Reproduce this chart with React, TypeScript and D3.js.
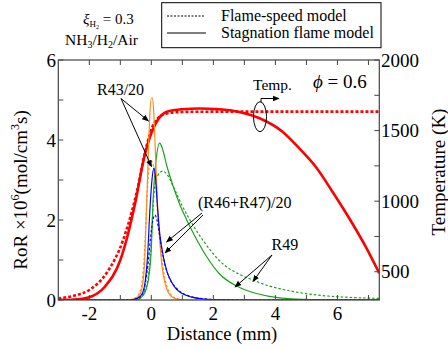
import React from "react";
import * as d3 from "d3";

type P = [number, number];

// Temperature (K), right axis
const tempStagnation: P[] = [[-3,300],[-2.5,303],[-2,320],[-1.5,394],[-1,583],[-0.5,1008],[-0.25,1292],[0,1483],[0.25,1590],[0.5,1634],[1,1651],[1.56,1656],[2.1,1652],[2.63,1641],[3.49,1587],[4.23,1492],[4.77,1374],[5.3,1244],[5.84,1067],[6.38,879],[6.91,678],[7.35,490]];
const tempFlameSpeed: P[] = [[-3,312],[-2.5,330],[-2,371],[-1.45,489],[-0.91,725],[-0.48,1056],[-0.16,1386],[0.11,1560],[0.5,1622],[1,1632],[2,1634],[7.35,1634]];

// RoR x10^6 (mol/cm3 s), left axis
const r43Stagnation: P[] = [[-3,0],[-0.8,0],[-0.55,0.03],[-0.4,0.1],[-0.3,0.3],[-0.22,0.9],[-0.16,2.2],[-0.1,3.6],[-0.05,4.6],[0,5.05],[0.04,5.05],[0.09,4.5],[0.14,3.5],[0.2,2.4],[0.27,1.5],[0.35,0.8],[0.45,0.4],[0.55,0.18],[0.7,0.06],[0.9,0.01],[1.2,0],[7.35,0]];
const r43FlameSpeed: P[] = [[-3,0],[-0.8,0],[-0.55,0.04],[-0.4,0.15],[-0.3,0.45],[-0.22,1.2],[-0.15,2.4],[-0.1,3.1],[-0.05,3.42],[0,3.47],[0.05,3.4],[0.1,3.2],[0.16,2.7],[0.22,2.0],[0.3,1.3],[0.38,0.8],[0.48,0.4],[0.6,0.17],[0.75,0.06],[1,0.01],[1.3,0],[7.35,0]];
const r4647Stagnation: P[] = [[-3,0],[-0.7,0],[-0.45,0.04],[-0.3,0.15],[-0.2,0.45],[-0.12,1.1],[-0.05,2.2],[0.02,3.0],[0.08,3.3],[0.13,3.1],[0.2,2.3],[0.28,1.6],[0.37,1.15],[0.5,0.72],[0.65,0.45],[0.8,0.28],[1,0.16],[1.3,0.07],[1.7,0.025],[2.2,0.005],[3,0],[7.35,0]];
const r4647FlameSpeed: P[] = [[-3,0],[-0.7,0],[-0.45,0.04],[-0.3,0.13],[-0.2,0.4],[-0.1,0.95],[-0.02,1.6],[0.05,2.0],[0.12,2.12],[0.18,2.0],[0.25,1.7],[0.33,1.3],[0.45,0.85],[0.6,0.52],[0.8,0.3],[1,0.17],[1.3,0.08],[1.7,0.03],[2.2,0.008],[3,0],[7.35,0]];
const r49Stagnation: P[] = [[-3,0],[-0.5,0],[-0.35,0.05],[-0.2,0.2],[-0.08,0.6],[0,1.3],[0.05,2.4],[0.14,3.4],[0.27,3.92],[0.35,3.8],[0.5,3.35],[0.7,2.85],[0.9,2.42],[1.13,2.02],[1.4,1.6],[1.77,1.1],[2.2,0.65],[2.8,0.33],[3.3,0.18],[3.8,0.09],[4.5,0.03],[5.5,0.01],[7.35,0]];
const r49FlameSpeed: P[] = [[-3,0],[-0.5,0],[-0.35,0.06],[-0.2,0.25],[-0.08,0.7],[0,1.5],[0.06,2.4],[0.12,2.9],[0.2,3.1],[0.37,3.22],[0.5,3.15],[0.7,2.85],[1,2.35],[1.4,1.8],[1.77,1.38],[2.2,0.98],[2.84,0.64],[3.27,0.5],[3.8,0.35],[4.34,0.25],[4.9,0.17],[5.4,0.12],[6.3,0.07],[7.35,0.04]];

const xTicks = [-2, -1, 0, 1, 2, 3, 4, 5, 6, 7];
const xTickLabels = [-2, 0, 2, 4, 6];
const yLeftTicks = [0, 1, 2, 3, 4, 5, 6];
const yLeftLabels = [0, 2, 4, 6];
const yRightTicks = [500, 750, 1000, 1250, 1500, 1750, 2000];
const yRightLabels = [500, 1000, 1500, 2000];

const FONT = "Liberation Serif";
const RED = "#ff0000";
const ORANGE = "#ff8c1a";
const BLUE = "#0000ff";
const GREEN = "#1aa31a";
const AXIS = "#444";

export default function App() {
  const L = 58.3, R = 379.3, T = 60, B = 300;
  const x = d3.scaleLinear().domain([-3, 7.35]).range([L, R]);
  const yL = d3.scaleLinear().domain([0, 6]).range([B, T]);
  const yR = d3.scaleLinear().domain([300, 2000]).range([B, T]);
  const lineL = d3.line<P>().x(d => x(d[0])).y(d => yL(d[1])).curve(d3.curveMonotoneX);
  const lineR = d3.line<P>().x(d => x(d[0])).y(d => yR(d[1])).curve(d3.curveMonotoneX);

  const thin = 1.2;
  return (
    <svg width={448} height={349} style={{ position: "absolute", left: 0, top: 0, background: "#fff", fontFamily: FONT }}>
      <defs>
        <marker id="ah" viewBox="0 0 10 10" refX="9" refY="5" markerWidth="7" markerHeight="7" orient="auto-start-reverse" markerUnits="userSpaceOnUse">
          <path d="M0,1 L10,5 L0,9 z" fill="#000" />
        </marker>
        <clipPath id="clip"><rect x={L} y={T} width={R - L} height={B - T} /></clipPath>
      </defs>

      {/* Legend */}
      <rect x={161.7} y={2.7} width={219.3} height={45} fill="none" stroke="#000" strokeWidth={1} />
      <line x1={167} x2={204} y1={16} y2={16} stroke="#000" strokeWidth={1} strokeDasharray="2,1.5" />
      <line x1={167} x2={206} y1={33} y2={33} stroke="#000" strokeWidth={1.2} />
      <text x={221} y={21} fontSize={16}>Flame-speed model</text>
      <text x={221} y={38} fontSize={16}>Stagnation flame model</text>

      {/* top-left annotation */}
      <text x={83} y={24} fontSize={15}>
        <tspan fontStyle="italic">ξ</tspan>
        <tspan fontSize={9} dy={3}>H</tspan>
        <tspan fontSize={6} dy={1.5}>2</tspan>
        <tspan dy={-4.5}> = 0.3</tspan>
      </text>
      <text x={65} y={45} fontSize={15.5}>
        NH<tspan fontSize={10} dy={3}>3</tspan><tspan dy={-3}>/H</tspan><tspan fontSize={10} dy={3}>2</tspan><tspan dy={-3}>/Air</tspan>
      </text>

      {/* curves */}
      <g clipPath="url(#clip)" fill="none">
        <path d={lineR(tempFlameSpeed) || ""} stroke={RED} strokeWidth={2.6} strokeDasharray="3,2" />
        <path d={lineR(tempStagnation) || ""} stroke={RED} strokeWidth={2.6} />
        <path d={lineL(r49FlameSpeed) || ""} stroke={GREEN} strokeWidth={thin} strokeDasharray="2.5,2" />
        <path d={lineL(r49Stagnation) || ""} stroke={GREEN} strokeWidth={thin} />
        <path d={lineL(r43FlameSpeed) || ""} stroke={ORANGE} strokeWidth={thin} strokeDasharray="2.5,2" />
        <path d={lineL(r43Stagnation) || ""} stroke={ORANGE} strokeWidth={thin} />
        <path d={lineL(r4647FlameSpeed) || ""} stroke={BLUE} strokeWidth={thin} strokeDasharray="2.5,2" />
        <path d={lineL(r4647Stagnation) || ""} stroke={BLUE} strokeWidth={thin} />
      </g>

      {/* frame */}
      <rect x={L} y={T} width={R - L} height={B - T} fill="none" stroke={AXIS} strokeWidth={1.2} />
      {xTicks.map(t => (
        <g key={"xt" + t}>
          <line x1={x(t)} x2={x(t)} y1={B} y2={B - 5} stroke={AXIS} />
          <line x1={x(t)} x2={x(t)} y1={T} y2={T + 5} stroke={AXIS} />
        </g>
      ))}
      {xTickLabels.map(t => (
        <text key={"xl" + t} x={x(t)} y={320} fontSize={19} textAnchor="middle">{t < 0 ? "-" + Math.abs(t) : t}</text>
      ))}
      {yLeftTicks.map(t => (
        <line key={"yl" + t} x1={L} x2={L + 5} y1={yL(t)} y2={yL(t)} stroke={AXIS} />
      ))}
      {yLeftLabels.map(t => (
        <text key={"yll" + t} x={56} y={yL(t) + 6.5} fontSize={19} textAnchor="end">{t}</text>
      ))}
      {yRightTicks.map(t => (
        <line key={"yr" + t} x1={R} x2={R - 5} y1={yR(t)} y2={yR(t)} stroke={AXIS} />
      ))}
      {yRightLabels.map(t => (
        <text key={"yrl" + t} x={381} y={yR(t) + 6.5} fontSize={19}>{t}</text>
      ))}

      {/* axis titles */}
      <text x={222} y={340} fontSize={18.5} textAnchor="middle">Distance (mm)</text>
      <text transform="translate(27,190) rotate(-90)" fontSize={19} textAnchor="middle">
        RoR ×10<tspan fontSize={12} dy={-8}>6</tspan><tspan dy={8}>(mol/cm</tspan><tspan fontSize={12} dy={-8}>3</tspan><tspan dy={8}>s)</tspan>
      </text>
      <text transform="translate(445,172) rotate(-90)" fontSize={19} textAnchor="middle">Temperature (K)</text>

      {/* annotations */}
      <text x={313} y={88} fontSize={19}><tspan fontStyle="italic">ϕ</tspan> = 0.6</text>
      <text x={253} y={90} fontSize={15.5}>Temp.</text>
      <ellipse cx={260} cy={116.7} rx={6.5} ry={15} fill="none" stroke="#000" strokeWidth={1} />
      <path d="M261,102 L261,98.5 L279,98.5" fill="none" stroke="#000" strokeWidth={1} markerEnd="url(#ah)" />

      <text x={97} y={95} fontSize={16}>R43/20</text>
      <line x1={121} y1={98.5} x2={148.5} y2={121} stroke="#000" strokeWidth={1} markerEnd="url(#ah)" />
      <line x1={121} y1={98.5} x2={151.5} y2={166.5} stroke="#000" strokeWidth={1} markerEnd="url(#ah)" />

      <text x={198} y={208} fontSize={16}>(R46+R47)/20</text>
      <line x1={202} y1={213} x2={166.5} y2={242} stroke="#000" strokeWidth={1} markerEnd="url(#ah)" />
      <line x1={203} y1={215} x2={165} y2={253} stroke="#000" strokeWidth={1} markerEnd="url(#ah)" />

      <text x={271.5} y={250} fontSize={16}>R49</text>
      <line x1={272} y1={255} x2={235} y2={287} stroke="#000" strokeWidth={1} markerEnd="url(#ah)" />
      <line x1={272} y1={255} x2={253} y2={281.5} stroke="#000" strokeWidth={1} markerEnd="url(#ah)" />
    </svg>
  );
}
